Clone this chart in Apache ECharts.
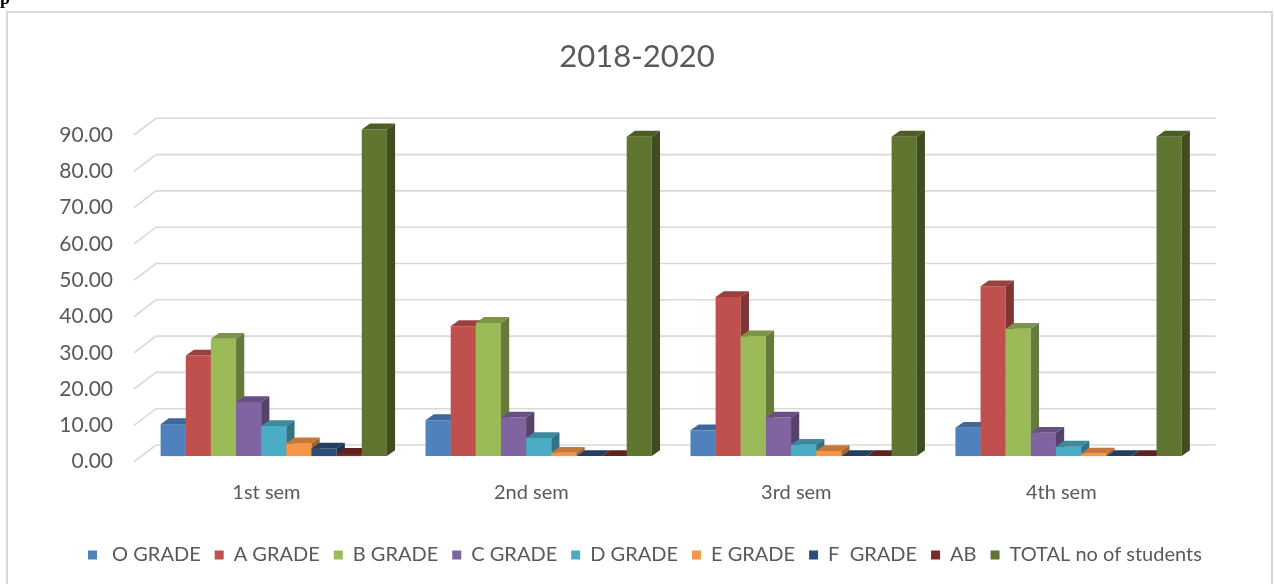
<!DOCTYPE html>
<html>
<head>
<meta charset="utf-8">
<title>2018-2020</title>
<script src="https://cdn.jsdelivr.net/npm/echarts@6/dist/echarts.min.js"></script>
<style>
  html, body { margin: 0; padding: 0; background: #fff; }
  #chart { width: 1274px; height: 584px; }
</style>
</head>
<body>
<div id="chart"></div>
<script>
// data
var semesters = ['1st sem', '2nd sem', '3rd sem', '4th sem']
var gradeNames = [' O GRADE', 'A GRADE', 'B GRADE', 'C GRADE', 'D GRADE', 'E GRADE', 'F  GRADE', 'AB', 'TOTAL no of students']
var oGrade = [8.8, 9.9, 7.1, 7.8]
var aGrade = [27.7, 35.8, 43.8, 46.8]
var bGrade = [32.3, 36.7, 33.0, 35.1]
var cGrade = [14.9, 10.6, 10.6, 6.4]
var dGrade = [8.3, 5.0, 3.1, 2.6]
var eGrade = [3.5, 0.9, 1.4, 0.7]
var fGrade = [2.1, 0, 0, 0]
var abGrade = [0.6, 0, 0, 0]
var totalStudents = [90, 88, 88, 88]
var yTicks = [0, 10, 20, 30, 40, 50, 60, 70, 80, 90]

var gradeValues = [oGrade, aGrade, bGrade, cGrade, dGrade, eGrade, fGrade, abGrade, totalStudents]
var colors = ['#4F81BD', '#C0504D', '#9BBB59', '#8064A2', '#4BACC6', '#F79646', '#2C4D75', '#772C2A', '#5F7530']

// fake 3d look
var WALL = [22, 16.7]       // floor depth
var BAR_OFF = [7.3, 5.6]    // bars sit a bit behind the front edge
var BAR_DEPTH = [8.2, 5.8]
var BAR_RATIO = 0.0949

function shade(hex, k) {
    var n = parseInt(hex.slice(1), 16)
    var r = Math.round(((n >> 16) & 255) * k)
    var g = Math.round(((n >> 8) & 255) * k)
    var b = Math.round((n & 255) * k)
    return 'rgb(' + r + ',' + g + ',' + b + ')'
}

function renderGridLine(params, api) {
    var cs = params.coordSys
    var y = api.coord([0, api.value(1)])[1]
    return {
        type: 'polyline',
        shape: {
            points: [
                [cs.x, y],
                [cs.x + WALL[0], y - WALL[1]],
                [cs.x + cs.width + WALL[0], y - WALL[1]]
            ]
        },
        style: { stroke: '#d9d9d9', lineWidth: 1.6, fill: null }
    }
}

function makeBarRenderer(k) {
    return function (params, api) {
        var cat = api.value(0)
        var val = api.value(1)
        var p0 = api.coord([cat, 0])
        var p1 = api.coord([cat, val])
        var band = api.size([1, 0])[0]
        var w = band * BAR_RATIO
        var x = p0[0] - w * gradeNames.length / 2 + k * w + BAR_OFF[0]
        var yb = p0[1] - BAR_OFF[1]
        var yt = p1[1] - BAR_OFF[1]
        var dx = BAR_DEPTH[0], dy = BAR_DEPTH[1]
        var c = colors[k]
        return {
            type: 'group',
            children: [
                {
                    type: 'rect',
                    shape: { x: x, y: yt, width: w, height: yb - yt },
                    style: { fill: c }
                },
                {
                    type: 'polygon',
                    shape: { points: [[x, yt], [x + dx, yt - dy], [x + w + dx, yt - dy], [x + w, yt]] },
                    style: { fill: shade(c, 0.8) }
                },
                {
                    type: 'polygon',
                    shape: { points: [[x + w, yt], [x + w + dx, yt - dy], [x + w + dx, yb - dy], [x + w, yb]] },
                    style: { fill: shade(c, 0.66) }
                }
            ]
        }
    }
}

var series = [{
    type: 'custom',
    name: 'grid',
    z: 1,
    silent: true,
    renderItem: renderGridLine,
    data: yTicks.map(function (v) { return [0, v] })
}]
gradeNames.forEach(function (name, k) {
    series.push({
        type: 'custom',
        name: name,
        z: 2,
        itemStyle: { color: colors[k] },
        renderItem: makeBarRenderer(k),
        data: gradeValues[k].map(function (v, i) { return [i, v] })
    })
})

var chart = echarts.init(document.getElementById('chart'))
var option = {
    animation: false,
    backgroundColor: '#fff',
    textStyle: { fontFamily: 'Lato' },
    title: {
        text: '2018-2020',
        left: 'center',
        top: 41,
        padding: 0,
        textStyle: { fontSize: 31, fontWeight: 'normal', color: '#595959', fontFamily: 'Lato' }
    },
    legend: {
        data: gradeNames,
        left: 83,
        top: 540,
        icon: 'rect',
        itemWidth: 9,
        itemHeight: 9,
        itemGap: 14,
        textStyle: { fontSize: 20, color: '#595959', fontFamily: 'Lato', padding: [0, 0, 0, 5] }
    },
    grid: { left: 134, right: 80.3, top: 135, bottom: 122.3 },
    xAxis: {
        type: 'category',
        data: semesters,
        axisLine: { show: false },
        axisTick: { show: false },
        axisLabel: { fontSize: 20, color: '#595959', margin: 21 }
    },
    yAxis: {
        type: 'value',
        min: 0,
        max: 90,
        interval: 10,
        axisLine: { show: false },
        axisTick: { show: false },
        splitLine: { show: false },
        axisLabel: {
            fontSize: 21,
            color: '#595959',
            margin: 21,
            formatter: function (v) { return v.toFixed(2) }
        }
    },
    graphic: [
        {
            type: 'rect',
            shape: { x: 7, y: 12, width: 1265, height: 600 },
            style: { fill: null, stroke: '#d9d9d9', lineWidth: 2 }
        },
        {
            type: 'text',
            x: 0,
            y: 0,
            style: { text: 'p', font: 'bold 18px "Liberation Serif"', fill: '#000', verticalAlign: 'bottom', x: 0, y: 8 }
        }
    ],
    series: series
}
chart.setOption(option)
</script>
</body>
</html>
